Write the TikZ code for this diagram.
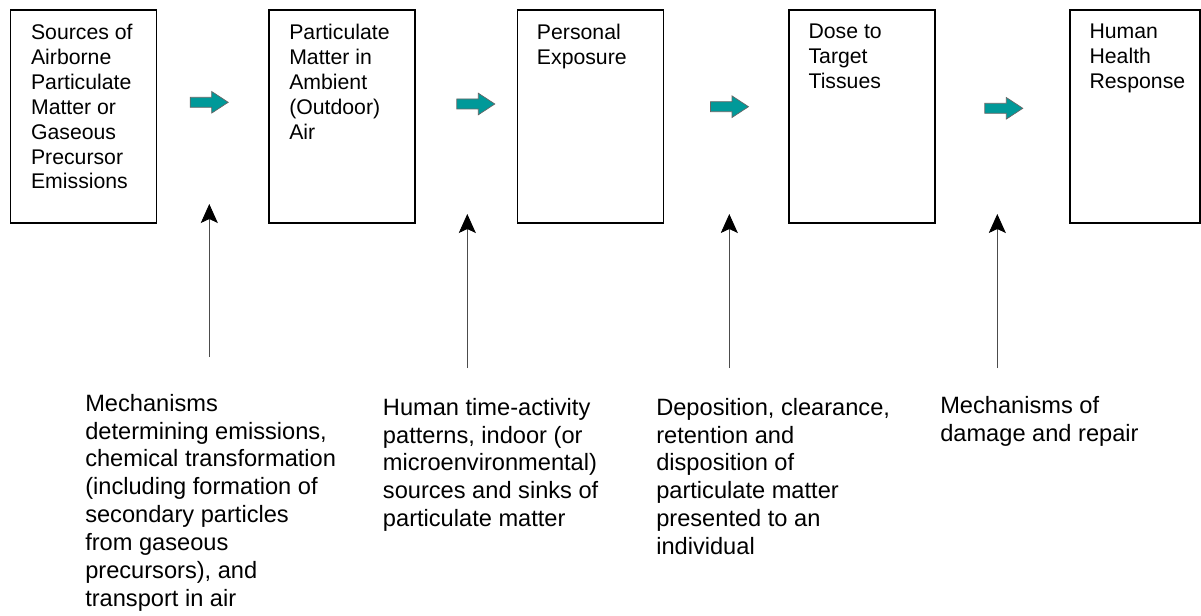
\documentclass[tikz,border=0pt]{standalone}
\usepackage{fontspec}
\setmainfont{Liberation Sans}
\usetikzlibrary{arrows.meta}

\definecolor{flowteal}{RGB}{0,153,153}

\tikzset{
  stage/.style={draw, line width=0.9pt, anchor=north west, inner sep=0pt, minimum width=146*0.025cm, minimum height=212.8*0.025cm},
  stagetext/.style={anchor=north west, align=left, inner sep=0pt, font=\fontsize{15.1pt}{17.7pt}\selectfont},
  notetext/.style={anchor=north west, align=left, inner sep=0pt, font=\fontsize{16.8pt}{19.85pt}\selectfont},
  feed/.style={draw=black!70, line width=0.6pt, -{Stealth[length=0.475cm, width=0.425cm, inset=0.1cm, color=black]}},
  flowarrow/.pic={
    \draw[fill=flowteal, draw=black!60, line width=0.5pt]
      (-19,-5) -- (2.5,-5) -- (2.5,-10.8) -- (19,0) -- (2.5,10.8) -- (2.5,5) -- (-19,5) -- cycle;
  }
}

\begin{document}
\begin{tikzpicture}[x=0.025cm, y=-0.025cm]
	\useasboundingbox (0,0) rectangle (1201,616);

	% the five stages
	\node[stage] (sources) at (10,9.5) {};
	\node[stage] (ambient) at (268.3,9.5) {};
	\node[stage] (exposure) at (516.7,9.5) {};
	\node[stage] (dose) at (788.3,9.5) {};
	\node[stage, minimum width=130*0.025cm] (response) at (1069.3,9.5) {};

	\node[stagetext] (sourcesT) at (30.8,24) {Sources of\\Airborne\\Particulate\\Matter or\\Gaseous\\Precursor\\Emissions};
	\node[stagetext] (ambientT) at (289,24) {Particulate\\Matter in\\Ambient\\(Outdoor)\\Air};
	\node[stagetext] (exposureT) at (536.7,24) {Personal\\Exposure};
	\node[stagetext] (doseT) at (808.3,24) {Dose to\\Target\\Tissues};
	\node[stagetext] (responseT) at (1089.3,24) {Human\\Health\\Response};

	% block arrows between the stages
	\pic at (209.2,102.3) {flowarrow};
	\pic at (475.8,104) {flowarrow};
	\pic at (729.5,106.7) {flowarrow};
	\pic at (1003.8,108.3) {flowarrow};

	% what acts at each step
	\node[notetext] (mechA) at (85,393.7) {Mechanisms\\determining emissions,\\chemical transformation\\(including formation of\\secondary particles\\from gaseous\\precursors), and\\transport in air};
	\node[notetext] (mechB) at (382.7,397.7) {Human time-activity\\patterns, indoor (or\\microenvironmental)\\sources and sinks of\\particulate matter};
	\node[notetext] (mechC) at (656,397.7) {Deposition, clearance,\\retention and\\disposition of\\particulate matter\\presented to an\\individual};
	\node[notetext] (mechD) at (940,395.7) {Mechanisms of\\damage and repair};

	\coordinate (tailA) at (209.3,357);
	\coordinate (tipA) at (209.3,204);
	\coordinate (tailB) at (467.3,368);
	\coordinate (tipB) at (467.3,214);
	\coordinate (tailC) at (729.3,368);
	\coordinate (tipC) at (729.3,214);
	\coordinate (tailD) at (997.3,368);
	\coordinate (tipD) at (997.3,214);

	\draw[feed] (tailA) -- (tipA);
	\draw[feed] (tailB) -- (tipB);
	\draw[feed] (tailC) -- (tipC);
	\draw[feed] (tailD) -- (tipD);
\end{tikzpicture}
\end{document}
